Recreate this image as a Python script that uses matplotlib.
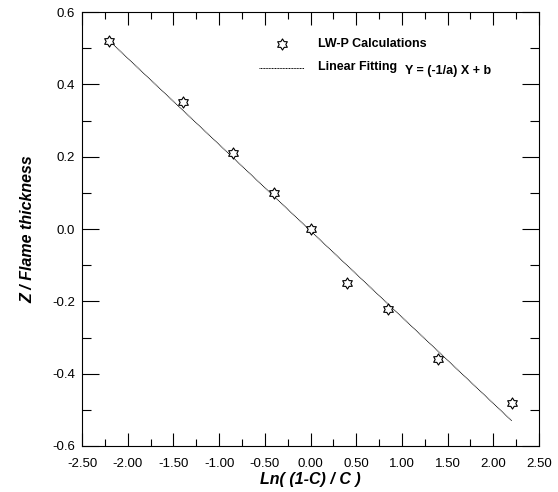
import numpy as np
import matplotlib
matplotlib.use("Agg")
import matplotlib.pyplot as plt
from matplotlib.path import Path
from matplotlib.ticker import MultipleLocator, FormatStrFormatter

plt.rcParams['font.family'] = ['Liberation Sans', 'DejaVu Sans']
plt.rcParams['axes.unicode_minus'] = False

# LW-P calculations
x_calc = [-2.2, -1.4, -0.85, -0.4, 0.0, 0.4, 0.85, 1.4, 2.2]
y_calc = [0.52, 0.35, 0.21, 0.10, 0.0, -0.15, -0.22, -0.36, -0.48]

# linear fitting end points
x_fit = [-2.2, 2.2]
y_fit = [0.52, -0.53]

# six-pointed star marker
ang = np.pi / 2 + np.arange(12) * np.pi / 6
rad = np.where(np.arange(12) % 2 == 0, 1.0, 0.6)
verts = np.column_stack([rad * np.cos(ang), rad * np.sin(ang)])
verts = np.vstack([verts, verts[:1]])
star = Path(verts, closed=True)

fig = plt.figure(figsize=(5.58, 4.92), dpi=100)
ax = fig.add_axes([0.147, 0.0935, 0.819, 0.882])

ax.plot(x_fit, y_fit, color='black', lw=0.7, ls=(0, (1, 0.6)))
ax.plot(x_calc, y_calc, ls='none', marker=star, ms=8, mfc='white', mec='black', mew=0.8)

ax.set_xlim(-2.5, 2.5)
ax.set_ylim(-0.6, 0.6)
ax.xaxis.set_major_locator(MultipleLocator(0.5))
ax.xaxis.set_minor_locator(MultipleLocator(0.25))
ax.yaxis.set_major_locator(MultipleLocator(0.2))
ax.yaxis.set_minor_locator(MultipleLocator(0.1))
ax.xaxis.set_major_formatter(FormatStrFormatter('%.2f'))
ax.yaxis.set_major_formatter(FormatStrFormatter('%.1f'))

ax.tick_params(axis='both', which='both', direction='in', top=True, right=True,
               labelsize=9.5, width=0.8)
ax.tick_params(axis='y', which='major', length=12, pad=5)
ax.tick_params(axis='y', which='minor', length=6.5)
ax.tick_params(axis='x', which='major', length=9.5, pad=9)
ax.tick_params(axis='x', which='minor', length=5)
for s in ax.spines.values():
    s.set_linewidth(0.8)

ax.set_xlabel('Ln( (1-C) / C )', fontsize=11.5, fontweight='bold', fontstyle='italic', labelpad=1)
ax.set_ylabel('Z / Flame thickness', fontsize=11.5, fontweight='bold', fontstyle='italic', labelpad=12)

# legend drawn by hand
ax.plot([0.438], [0.926], transform=ax.transAxes, ls='none', marker=star, ms=8,
        mfc='white', mec='black', mew=0.8)
ax.text(0.516, 0.926, 'LW-P Calculations', transform=ax.transAxes, fontsize=9,
        fontweight='bold', va='center')
ax.plot([0.387, 0.486], [0.871, 0.871], transform=ax.transAxes, color='black',
        lw=0.7, ls=(0, (1, 0.6)))
ax.text(0.516, 0.873, 'Linear Fitting', transform=ax.transAxes, fontsize=9,
        fontweight='bold', va='center')
ax.text(0.707, 0.864, 'Y = (-1/a) X + b', transform=ax.transAxes, fontsize=9,
        fontweight='bold', va='center')

fig.savefig('out.png', dpi=100)
